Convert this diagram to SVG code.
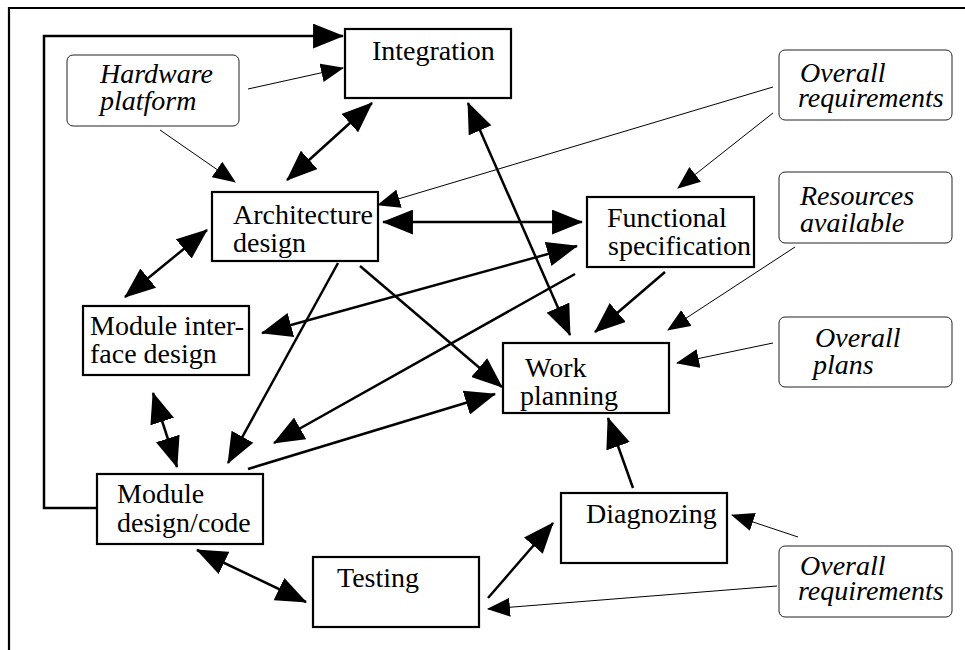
<svg xmlns="http://www.w3.org/2000/svg" width="965" height="650" viewBox="0 0 965 650">
  <style>
    .box { fill: #fff; stroke: #000; stroke-width: 2.2; }
    .src { fill: #fff; stroke: #222; stroke-width: 1; }
    .lbl { font-family: "Liberation Serif", "Times New Roman", serif; font-size: 28px; fill: #000; }
    .it { font-style: italic; }
    .thick { fill: none; stroke: #000; stroke-width: 2.5; }
    .thin { fill: none; stroke: #000; stroke-width: 1; }
    .frame { fill: none; stroke: #000; stroke-width: 2.2; }
  </style>
  <defs>
    <marker id="big" markerUnits="userSpaceOnUse" markerWidth="31" markerHeight="25" viewBox="0 0 30 24" refX="29" refY="12" orient="auto-start-reverse">
      <path d="M0,0 L30,12 L0,24 z" fill="#000"/>
    </marker>
    <marker id="small" markerUnits="userSpaceOnUse" markerWidth="23" markerHeight="19" viewBox="0 0 22 18" refX="21" refY="9" orient="auto-start-reverse">
      <path d="M0,0 L22,9 L0,18 z" fill="#000"/>
    </marker>
  </defs>

  <!-- page frame -->
  <path class="frame" d="M9,650 V8 H965"/>

  <g id="connectors">
    <!-- feedback loop from module design/code back to integration -->
    <path class="thick" d="M97,508 H44 V36 H343" marker-end="url(#big)"/>
    <line class="thick" x1="372" y1="103" x2="287" y2="180" marker-start="url(#big)" marker-end="url(#big)"/>
    <line class="thick" x1="468" y1="103" x2="570" y2="335" marker-start="url(#big)" marker-end="url(#big)"/>
    <line class="thick" x1="383" y1="222" x2="582" y2="222" marker-start="url(#big)" marker-end="url(#big)"/>
    <line class="thick" x1="207" y1="230" x2="125" y2="297" marker-start="url(#big)" marker-end="url(#big)"/>
    <line class="thick" x1="577" y1="246" x2="262" y2="333" marker-start="url(#big)" marker-end="url(#big)"/>
    <line class="thick" x1="338" y1="263" x2="228" y2="463" marker-end="url(#big)"/>
    <line class="thick" x1="360" y1="266" x2="502" y2="387" marker-end="url(#big)"/>
    <line class="thick" x1="575" y1="274" x2="274" y2="443" marker-end="url(#big)"/>
    <line class="thick" x1="248" y1="469" x2="495" y2="394" marker-end="url(#big)"/>
    <line class="thick" x1="665" y1="272" x2="595" y2="332" marker-end="url(#big)"/>
    <line class="thick" x1="153" y1="393" x2="177" y2="467" marker-start="url(#big)" marker-end="url(#big)"/>
    <line class="thick" x1="197" y1="550" x2="306" y2="602" marker-start="url(#big)" marker-end="url(#big)"/>
    <line class="thick" x1="633" y1="488" x2="608" y2="418" marker-end="url(#big)"/>
    <line class="thick" x1="488" y1="598" x2="553" y2="523" marker-end="url(#big)"/>

    <!-- external inputs -->
    <line class="thin" x1="248" y1="89" x2="343" y2="68" marker-end="url(#small)"/>
    <line class="thin" x1="160" y1="130" x2="235" y2="182" marker-end="url(#small)"/>
    <line class="thin" x1="773" y1="87" x2="378" y2="205" marker-end="url(#small)"/>
    <line class="thin" x1="773" y1="113" x2="678" y2="188" marker-end="url(#small)"/>
    <line class="thin" x1="795" y1="247" x2="668" y2="330" marker-end="url(#small)"/>
    <line class="thin" x1="773" y1="343" x2="677" y2="363" marker-end="url(#small)"/>
    <line class="thin" x1="798" y1="537" x2="732" y2="515" marker-end="url(#small)"/>
    <line class="thin" x1="777" y1="586" x2="488" y2="609" marker-end="url(#small)"/>
  </g>

  <g id="integration">
    <rect class="box" x="345" y="29" width="166" height="69"/>
    <text class="lbl" x="372" y="60">Integration</text>
  </g>
  <g id="hardware-platform">
    <rect class="src" x="67" y="55" width="172" height="71" rx="6"/>
    <text class="lbl it" x="100" y="83">Hardware</text>
    <text class="lbl it" x="100" y="110">platform</text>
  </g>
  <g id="overall-requirements-top">
    <rect class="src" x="779" y="50" width="173" height="70" rx="6"/>
    <text class="lbl it" x="800" y="82">Overall</text>
    <text class="lbl it" x="798" y="107">requirements</text>
  </g>
  <g id="architecture-design">
    <rect class="box" x="212" y="192" width="166" height="69"/>
    <text class="lbl" x="233" y="224">Architecture</text>
    <text class="lbl" x="233" y="252">design</text>
  </g>
  <g id="functional-specification">
    <rect class="box" x="587" y="197" width="167" height="70"/>
    <text class="lbl" x="607" y="227">Functional</text>
    <text class="lbl" x="608" y="255">specification</text>
  </g>
  <g id="resources-available">
    <rect class="src" x="779" y="172" width="173" height="71" rx="6"/>
    <text class="lbl it" x="800" y="205">Resources</text>
    <text class="lbl it" x="800" y="232">available</text>
  </g>
  <g id="module-interface-design">
    <rect class="box" x="83" y="306" width="166" height="69"/>
    <text class="lbl" x="90" y="335">Module inter-</text>
    <text class="lbl" x="90" y="363">face design</text>
  </g>
  <g id="work-planning">
    <rect class="box" x="503" y="343" width="166" height="70"/>
    <text class="lbl" x="525" y="377">Work</text>
    <text class="lbl" x="520" y="405">planning</text>
  </g>
  <g id="overall-plans">
    <rect class="src" x="779" y="317" width="173" height="70" rx="6"/>
    <text class="lbl it" x="815" y="347">Overall</text>
    <text class="lbl it" x="813" y="374">plans</text>
  </g>
  <g id="module-design-code">
    <rect class="box" x="97" y="474" width="166" height="70"/>
    <text class="lbl" x="117" y="503">Module</text>
    <text class="lbl" x="117" y="532">design/code</text>
  </g>
  <g id="diagnozing">
    <rect class="box" x="561" y="493" width="166" height="70"/>
    <text class="lbl" x="586" y="523">Diagnozing</text>
  </g>
  <g id="testing">
    <rect class="box" x="313" y="557" width="166" height="70"/>
    <text class="lbl" x="337" y="587">Testing</text>
  </g>
  <g id="overall-requirements-bottom">
    <rect class="src" x="779" y="546" width="173" height="71" rx="6"/>
    <text class="lbl it" x="800" y="575">Overall</text>
    <text class="lbl it" x="798" y="600">requirements</text>
  </g>
</svg>
